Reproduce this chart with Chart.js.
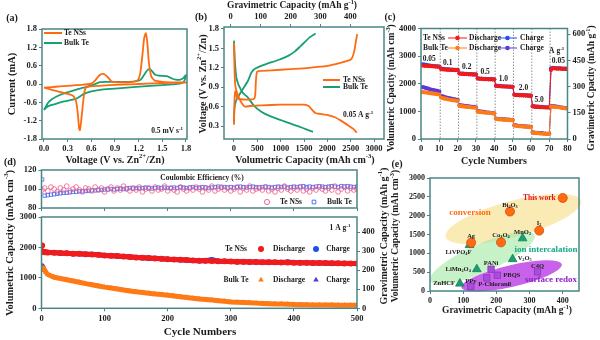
<!DOCTYPE html>
<html>
<head>
<meta charset="utf-8">
<title>Te NSs vs Bulk Te</title>
<script src="https://cdn.jsdelivr.net/npm/chart.js@4.4.1/dist/chart.umd.min.js"></script>
<style>
  body { margin: 0; background: #fff; }
  #fig { position: relative; width: 600px; height: 340px; overflow: hidden; }
  #fig canvas { position: absolute; left: 0; top: 0; }
</style>
</head>
<body>
<div id="fig">
  <canvas id="cvA" width="600" height="340"></canvas>
  <canvas id="gcdB" width="600" height="340"></canvas>
  <canvas id="rateC" width="600" height="340"></canvas>
  <canvas id="ceD" width="600" height="340"></canvas>
  <canvas id="cycD" width="600" height="340"></canvas>
  <canvas id="cmpE" width="600" height="340"></canvas>
</div>
<script>
// ---------- (a) CV at 0.5 mV/s ----------
const cvNssV = [0.00,0.10,0.20,0.30,0.40,0.50,0.60,0.65,0.70,0.75,0.80,0.85,0.90,1.00,1.10,1.18,1.22,1.25,1.27,1.29,1.31,1.33,1.36,1.40,1.50,1.65,1.80,
                1.70,1.50,1.30,1.10,0.90,0.75,0.62,0.56,0.53,0.51,0.49,0.47,0.455,0.445,0.43,0.41,0.38,0.35,0.30,0.20,0.10,0.00];
const cvNssI = [-0.12,-0.10,-0.08,-0.06,-0.04,-0.02,0.01,0.12,0.28,0.33,0.25,0.10,0.06,0.05,0.06,0.10,0.35,1.00,1.50,1.66,1.35,0.70,0.25,0.12,0.07,0.05,0.05,
                0.04,0.03,0.01,-0.01,-0.03,-0.05,-0.07,-0.09,-0.12,-0.30,-0.75,-1.25,-1.51,-1.45,-1.00,-0.60,-0.42,-0.36,-0.32,-0.26,-0.19,-0.12];
const cvBulkV = [0.00,0.05,0.10,0.20,0.30,0.40,0.50,0.62,0.71,0.80,1.00,1.13,1.22,1.27,1.31,1.34,1.37,1.41,1.47,1.56,1.62,1.67,1.73,1.77,1.80,
                 1.79,1.77,1.72,1.50,1.30,1.13,0.90,0.71,0.60,0.50,0.45,0.41,0.35,0.24,0.15,0.07,0.03,0.00];
const cvBulkI = [-0.85,-0.62,-0.50,-0.36,-0.27,-0.19,-0.12,-0.03,0.06,0.07,0.07,0.08,0.13,0.30,0.45,0.49,0.42,0.30,0.27,0.26,0.18,0.14,0.14,0.20,0.30,
                 0.18,0.06,0.01,-0.04,-0.07,-0.10,-0.15,-0.19,-0.24,-0.33,-0.42,-0.48,-0.52,-0.58,-0.65,-0.71,-0.77,-0.85];
const cvVoltTicks = [0, 0.3, 0.6, 0.9, 1.2, 1.5, 1.8];
const cvCurTicks = [-1.8, -1.2, -0.6, 0, 0.6, 1.2, 1.8];

// ---------- (b) charge/discharge at 0.05 A/g ----------
const gcdNssDisQ = [0,10,25,50,100,160,230,350,600,1000,1300,1500,1600,1660,1740,1820,1900,2014,2150,2300,2450,2550,2630];
const gcdNssDisV = [1.58,1.20,0.95,0.85,0.75,0.66,0.60,0.61,0.62,0.63,0.63,0.63,0.61,0.56,0.50,0.49,0.48,0.47,0.44,0.38,0.31,0.26,0.20];
const gcdNssChgQ = [0,5,15,30,60,100,200,350,430,455,470,490,520,800,1200,1600,2000,2300,2450,2520,2575,2610,2640];
const gcdNssChgV = [0.32,0.55,0.76,0.84,0.75,0.72,0.71,0.71,0.72,0.78,1.00,1.13,1.15,1.16,1.18,1.20,1.23,1.28,1.31,1.34,1.45,1.60,1.72];
const gcdBulkDisQ = [0,20,50,90,121,180,300,420,586,750,1014,1200,1400,1550,1693];
const gcdBulkDisV = [1.62,1.30,1.05,0.95,0.90,0.82,0.74,0.62,0.52,0.46,0.39,0.34,0.29,0.25,0.21];
const gcdBulkChgQ = [0,5,15,40,86,180,300,370,420,520,700,950,1150,1300,1420,1520,1620,1750];
const gcdBulkChgV = [0.35,0.50,0.60,0.68,0.75,0.86,1.00,1.12,1.17,1.21,1.26,1.32,1.38,1.45,1.53,1.60,1.67,1.73];
const gcdVolTicks = [0, 500, 1000, 1500, 2000, 2500, 3000];
const gcdGravTicks = [0, 100, 200, 300, 400];
const gcdVoltTicks = [0.3, 0.6, 0.9, 1.2, 1.5, 1.8];

// ---------- (c) rate performance ----------
const rateCycles = Array.from({ length: 80 }, (_, i) => i + 1);
const rateNssDis = [2660,2650,2650,2640,2640,2630,2630,2620,2620,2610,
                    2530,2520,2520,2510,2510,2500,2500,2500,2490,2490,
                    2370,2360,2360,2350,2350,2340,2340,2340,2330,2330,
                    2190,2180,2180,2170,2170,2170,2160,2160,2160,2150,
                    1920,1910,1910,1900,1900,1900,1900,1890,1890,1890,
                    1600,1590,1590,1580,1580,1580,1580,1570,1570,1570,
                    1180,1170,1160,1160,1150,1150,1150,1140,1140,1140,
                    2500,2560,2560,2550,2550,2550,2540,2540,2540,2530];
const rateNssChg = [2700,2690,2680,2670,2660,2650,2640,2630,2630,2620,
                    2550,2540,2530,2520,2520,2510,2510,2500,2500,2500,
                    2380,2370,2370,2360,2360,2350,2350,2340,2340,2340,
                    2200,2190,2190,2180,2180,2170,2170,2170,2160,2160,
                    1930,1920,1920,1910,1910,1900,1900,1900,1900,1890,
                    1610,1600,1600,1590,1590,1580,1580,1580,1570,1570,
                    1190,1180,1170,1170,1160,1160,1150,1150,1150,1140,
                    2560,2580,2570,2560,2560,2560,2550,2550,2550,2540];
const rateBulkDis = [1700,1690,1680,1670,1660,1650,1640,1630,1620,1610,
                     1500,1480,1460,1450,1430,1420,1410,1400,1390,1380,
                     1200,1190,1180,1170,1160,1160,1150,1140,1140,1130,
                     990,980,970,960,960,950,950,940,930,920,
                     730,720,710,710,700,700,690,690,680,680,
                     490,480,470,460,460,450,450,440,440,430,
                     230,220,210,210,200,200,190,190,190,180,
                     1180,1170,1160,1150,1150,1140,1130,1120,1110,1100];
const rateBulkChg = [1880,1860,1840,1820,1800,1780,1770,1750,1740,1720,
                     1560,1540,1520,1500,1480,1470,1450,1440,1430,1420,
                     1230,1220,1210,1200,1190,1180,1170,1160,1160,1150,
                     1010,1000,990,980,970,960,960,950,940,930,
                     740,730,720,720,710,710,700,700,690,690,
                     500,490,480,470,470,460,460,450,450,440,
                     240,230,220,220,210,210,200,200,190,190,
                     1200,1190,1180,1170,1160,1150,1140,1130,1120,1110];
const rateSteps = ['0.05', '0.1', '0.2', '0.5', '1.0', '2.0', '5.0', '0.05'];
const rateStepAt = [4.5, 14.6, 25, 35, 45, 56, 64.5, 75];
const rateDividers = [10.5, 20.5, 30.5, 40.5, 50.5, 60.5, 70.5];
const rateCycTicks = [0, 10, 20, 30, 40, 50, 60, 70, 80];
const rateVolTicks = [0, 1000, 2000, 3000, 4000];
const rateGravTicks = [0, 150, 300, 450, 600];

// ---------- (d) long cycling at 1 A/g ----------
const ceCycles = [1].concat(Array.from({ length: 100 }, (_, i) => 5 * (i + 1)));
const ceNss = [99,101,98,102,100,97,101,99,103,98,
               100,102,99,97,101,100,98,102,99,101,
               97,100,102,98,101,99,103,100,98,101,
               99,102,97,100,101,98,102,99,100,103,
               98,101,99,97,102,100,98,101,99,102,
               100,97,101,99,103,98,100,102,99,101,
               98,100,102,97,101,99,103,98,100,101,
               99,102,98,100,97,101,99,103,100,98,
               101,99,102,98,100,97,101,99,102,100,
               98,101,99,103,97,100,102,98,101,99,
               100];
const ceBulk = [110,93,93.5,94,94.5,95,95.5,96,96,96.5,97,
                97,97.5,97.5,98,98,98.5,98.5,99,99,99.5,
                99.5,100,99.5,100,100.5,100,100.5,101,100.5,101,
                100.5,101,101.5,101,100.5,101,101.5,101,101.5,101,
                101,101.5,101,102,101.5,101,101.5,102,101,101.5,
                102,101.5,101,101.5,102,102.5,101.5,102,101.5,102,
                101.5,102,102.5,102,101.5,102,102.5,102,101.5,102,
                102.5,102,101.5,102,102.5,102,102.5,101.5,102,102.5,
                102,102.5,103,102,102.5,102,102.5,103,102.5,102,
                102.5,103,102.5,102,103,102.5,103,102.5,102,102.5];
const capCycles = [1, 2, 3, 5, 7].concat(Array.from({ length: 50 }, (_, i) => 10 * (i + 1)));
const capNssDis = [2065,1860,1850,1845,1840,1835,1828,1815,1808,1796,
                   1790,1778,1770,1760,1735,1728,1715,1700,1688,1670,
                   1662,1650,1640,1628,1612,1602,1592,1584,1572,1565,
                   1560,1556,1548,1542,1535,1530,1526,1522,1518,1515,
                   1512,1510,1506,1503,1500,1497,1494,1491,1488,1485,
                   1482,1478,1475,1471,1468];
const capNssChg = [1870,1855,1848,1842,1838,1832,1830,1812,1810,1794,
                   1792,1776,1772,1758,1737,1726,1717,1698,1690,1668,
                   1664,1648,1642,1626,1614,1600,1594,1582,1574,1563,
                   1562,1600,1550,1540,1537,1528,1528,1520,1520,1513,
                   1514,1508,1508,1525,1502,1495,1496,1489,1490,1483,
                   1484,1476,1477,1469,1470];
const capBulkDis = [1250,1330,1320,1250,1180,1110,1020,980,940,895,
                    855,810,775,735,695,665,635,600,570,541,
                    520,495,470,450,430,405,380,355,330,309,
                    290,270,250,230,210,200,190,180,170,160,
                    152,145,138,130,121,118,115,112,110,108,
                    106,104,102,100,99];
const capBulkChg = [1380,1420,1390,1300,1215,1130,1035,990,952,908,
                    867,822,787,747,707,677,647,612,582,553,
                    532,507,482,462,442,417,392,367,342,321,
                    302,282,262,242,222,212,202,192,182,172,
                    164,157,150,142,133,130,127,124,122,120,
                    118,116,114,112,111];
const ceTicks = [80, 100, 120];
const capCycTicks = [0, 100, 200, 300, 400, 500];
const capVolTicks = [0, 1000, 2000, 3000];
const capGravTicks = [0, 100, 200, 300, 400];

// ---------- (e) comparison with other Zn cathodes ----------
const convNames = ['This work', 'Bi_{2}O_{3}', 'I_{2}', 'Co_{3}O_{4}', 'Ag'];
const convGrav = [400, 241, 329, 214, 124];
const convVol = [2470, 2110, 1603, 1291, 1282];
const ionNames = ['MnO_{2}', 'LiVPO_{4}F', 'V_{2}O_{5}', 'LiMn_{2}O_{4}', 'ZnHCF'];
const ionGrav = [279, 119, 249, 141, 90];
const ionVol = [1398, 1220, 846, 579, 196];
const redoxNames = ['PANi', 'PBQS', 'P-Chloranil', 'PPy', 'C4Q'];
const redoxGrav = [184, 203, 171, 123, 324];
const redoxVol = [579, 418, 347, 125, 508];
const cmpGravTicks = [0, 100, 200, 300, 400];
const cmpVolTicks = [0, 500, 1000, 1500, 2000, 2500, 3000];

// label offsets (px) and alignment for the point names
const convLabelPos = [[-7, 0, 'right'], [0, -6, 'center'], [0, -7, 'center'], [0, -7, 'center'], [0, -6, 'center']];
const ionLabelPos = [[0, -6, 'center'], [-11, 7, 'center'], [5, -1, 'left'], [-6, 0, 'right'], [-5, 0, 'right']];
const redoxLabelPos = [[0, -6, 'center'], [6, 0, 'left'], [8, 6, 'center'], [0, -5, 'center'], [0, -6, 'center']];

// shaded families: centre (grav, vol), semi-axes in data units, tilt in degrees
const families = [
  { c: [251, 1914], a: 211, b: 480, tilt: -15, fill: 'rgba(247,222,135,0.62)' },
  { c: [158, 880], a: 172, b: 380, tilt: -24, fill: 'rgba(165,232,165,0.62)' },
  { c: [246, 400], a: 155, b: 285, tilt: -13, fill: 'rgba(192,70,232,0.85)' }
];

// ---------- drawing helpers ----------
const SERIF = '"Liberation Serif", "Times New Roman", serif';
const INK = '#1b1b1b';
const AXIS = '#4a8585';
const C_ORANGE = '#ff6a10';
const C_GREEN = '#18a074';
const C_RED = '#f21a1a';
const C_BLUE = '#1f4ef0';
const C_BULK = '#ff7a14';
const C_PURPLE = '#5a3ad6';
const C_PINK = '#ee5a8a';
const TICK_FONT = { family: SERIF, size: 8.5, weight: 'bold' };

function rich(ctx, str, x, y, size, align, color) {
  const parts = [];
  const re = /([\^_])\{([^}]*)\}/g;
  let last = 0, m;
  while ((m = re.exec(str))) {
    if (m.index > last) parts.push({ t: str.slice(last, m.index), k: '' });
    parts.push({ t: m[2], k: m[1] });
    last = re.lastIndex;
  }
  if (last < str.length) parts.push({ t: str.slice(last), k: '' });
  const font = k => `bold ${k ? size * 0.66 : size}px ${SERIF}`;
  let w = 0;
  parts.forEach(p => { ctx.font = font(p.k); p.w = ctx.measureText(p.t).width; w += p.w; });
  let cx = align === 'center' ? x - w / 2 : align === 'right' ? x - w : x;
  ctx.save();
  ctx.fillStyle = color || INK;
  ctx.textBaseline = 'middle';
  ctx.textAlign = 'left';
  parts.forEach(p => {
    ctx.font = font(p.k);
    const dy = p.k === '^' ? -size * 0.34 : p.k === '_' ? size * 0.24 : 0;
    ctx.fillText(p.t, cx, y + dy);
    cx += p.w;
  });
  ctx.restore();
}

function vrich(ctx, str, x, y, size, color) {
  ctx.save();
  ctx.translate(x, y);
  ctx.rotate(-Math.PI / 2);
  rich(ctx, str, 0, 0, size, 'center', color);
  ctx.restore();
}

function seg(ctx, x1, x2, y, color, w) {
  ctx.save();
  ctx.strokeStyle = color;
  ctx.lineWidth = w;
  ctx.beginPath(); ctx.moveTo(x1, y); ctx.lineTo(x2, y); ctx.stroke();
  ctx.restore();
}

function marker(ctx, style, x, y, r, fill, stroke, bw) {
  ctx.save();
  ctx.fillStyle = fill;
  ctx.strokeStyle = stroke;
  ctx.lineWidth = bw;
  Chart.helpers.drawPoint(ctx, { pointStyle: style, rotation: 0, radius: r, borderWidth: bw }, x, y);
  ctx.restore();
}

function xy(xs, ys) { return xs.map((x, i) => ({ x, y: ys[i] })); }

function scale(pos, min, max, tickVals, size, fmt, more) {
  const horiz = pos === 'top' || pos === 'bottom';
  const s = {
    type: 'linear', position: pos, min, max,
    afterBuildTicks: a => { a.ticks = tickVals.map(v => ({ value: v })); },
    afterFit: a => { if (horiz) a.height = size; else a.width = size; },
    border: { display: false },
    grid: { drawOnChartArea: false, drawTicks: true, tickLength: 3, color: AXIS, lineWidth: 1 },
    ticks: { padding: 2, maxRotation: 0, autoSkip: false, color: INK, font: TICK_FONT, callback: fmt }
  };
  if (more) Object.assign(s.ticks, more);
  return s;
}

// padding so the plot frame lands on (l, t, r, b) of the 600x340 sheet
function pad(l, t, r, b, ax) {
  return { left: l - (ax.left || 0), top: t - (ax.top || 0),
           right: 600 - r - (ax.right || 0), bottom: 340 - b - (ax.bottom || 0) };
}

function options(padding, scales) {
  return {
    responsive: false, animation: false, events: [],
    layout: { autoPadding: false, padding },
    plugins: { legend: { display: false }, tooltip: { enabled: false } },
    scales
  };
}

const frame = {
  id: 'frame',
  afterDatasetsDraw(chart) {
    const { ctx, chartArea: a } = chart;
    ctx.save();
    ctx.strokeStyle = AXIS;
    ctx.lineWidth = 1.5;
    ctx.strokeRect(a.left, a.top, a.right - a.left, a.bottom - a.top);
    ctx.restore();
  }
};

const f1 = v => v.toFixed(1);
const f0 = v => String(v);

// Chart.js paints dataset 0 last, so the series listed first ends up on top.

// ---------- (a) ----------
new Chart(document.getElementById('cvA'), {
  type: 'scatter',
  data: { datasets: [
    { data: xy(cvNssV, cvNssI), showLine: true, borderColor: C_ORANGE, borderWidth: 1.8, pointRadius: 0, tension: 0.2 },
    { data: xy(cvBulkV, cvBulkI), showLine: true, borderColor: C_GREEN, borderWidth: 1.8, pointRadius: 0, tension: 0.2 }
  ] },
  options: options(pad(42, 29, 187, 139, { left: 42, bottom: 201 }), {
    x: scale('bottom', -0.025, 1.813, cvVoltTicks, 201, f1),
    y: scale('left', -1.8, 1.8, cvCurTicks, 42, f1)
  }),
  plugins: [frame, { id: 'txtA', afterDraw(c) {
    const ctx = c.ctx;
    rich(ctx, '(a)', 12, 18, 10, 'center');
    vrich(ctx, 'Current (mA)', 12, 84, 10.5);
    rich(ctx, 'Voltage (V vs. Zn^{2+}/Zn)', 115, 160, 10, 'center');
    seg(ctx, 44, 62, 33, C_ORANGE, 2);
    rich(ctx, 'Te NSs', 64, 33, 7.5, 'left');
    seg(ctx, 44, 62, 43, C_GREEN, 2);
    rich(ctx, 'Bulk Te', 64, 43, 7.5, 'left');
    rich(ctx, '0.5 mV s^{-1}', 183, 131, 7.5, 'right');
  } }]
});

// ---------- (b) ----------
new Chart(document.getElementById('gcdB'), {
  type: 'scatter',
  data: { datasets: [
    { data: xy(gcdNssDisQ, gcdNssDisV), showLine: true, borderColor: C_ORANGE, borderWidth: 1.8, pointRadius: 0, tension: 0.2 },
    { data: xy(gcdNssChgQ, gcdNssChgV), showLine: true, borderColor: C_ORANGE, borderWidth: 1.8, pointRadius: 0, tension: 0.2 },
    { data: xy(gcdBulkDisQ, gcdBulkDisV), showLine: true, borderColor: C_GREEN, borderWidth: 1.8, pointRadius: 0, tension: 0.2 },
    { data: xy(gcdBulkChgQ, gcdBulkChgV), showLine: true, borderColor: C_GREEN, borderWidth: 1.8, pointRadius: 0, tension: 0.2 }
  ] },
  options: options(pad(224, 27, 384, 139, { left: 224, top: 27, bottom: 201 }), {
    x: scale('bottom', -214, 3214, gcdVolTicks, 201, f0),
    x2: scale('top', -22, 512, gcdGravTicks, 27, f0),
    y: scale('left', 0.1, 1.83, gcdVoltTicks, 224, f1)
  }),
  plugins: [frame, { id: 'txtB', afterDraw(c) {
    const ctx = c.ctx;
    rich(ctx, '(b)', 201, 17, 10, 'center');
    vrich(ctx, 'Voltage (V vs. Zn^{2+}/Zn)', 203, 84, 10);
    rich(ctx, 'Gravimetric Capacity (mAh g^{-1})', 292, 6, 9.5, 'center');
    rich(ctx, 'Volumetric Capacity (mAh cm^{-3})', 305, 160, 10, 'center');
    seg(ctx, 323, 340, 80, C_ORANGE, 2);
    rich(ctx, 'Te NSs', 343, 80, 7.5, 'left');
    seg(ctx, 323, 340, 87, C_GREEN, 2);
    rich(ctx, 'Bulk Te', 343, 87, 7.5, 'left');
    rich(ctx, '0.05 A g^{-1}', 343, 115, 7.5, 'left');
  } }]
});

// ---------- (c) ----------
function rateSet(ys, color) {
  return { data: xy(rateCycles, ys), showLine: true, borderColor: color, backgroundColor: color,
           borderWidth: 1, pointRadius: 2.1, pointBorderWidth: 0, pointStyle: 'circle' };
}
new Chart(document.getElementById('rateC'), {
  type: 'scatter',
  data: { datasets: [
    rateSet(rateBulkDis, C_BULK),
    rateSet(rateBulkChg, C_PURPLE),
    rateSet(rateNssDis, C_RED),
    rateSet(rateNssChg, C_BLUE)
  ] },
  options: options(pad(421, 28.5, 567.5, 139, { left: 421, right: 32.5, bottom: 201 }), {
    x: scale('bottom', 0, 80, rateCycTicks, 201, f0),
    y: scale('left', 0, 4000, rateVolTicks, 421, f0),
    y2: scale('right', 0, 632, rateGravTicks, 32.5, f0)
  }),
  plugins: [frame, {
    id: 'dividersC',
    beforeDatasetsDraw(c) {
      const ctx = c.ctx, a = c.chartArea, sx = c.scales.x;
      ctx.save();
      ctx.strokeStyle = '#777';
      ctx.lineWidth = 0.8;
      ctx.setLineDash([1.5, 1.5]);
      rateDividers.forEach(v => {
        const px = sx.getPixelForValue(v);
        ctx.beginPath(); ctx.moveTo(px, a.top); ctx.lineTo(px, a.bottom); ctx.stroke();
      });
      ctx.restore();
    },
    afterDraw(c) {
      const ctx = c.ctx, sx = c.scales.x, sy = c.scales.y;
      rich(ctx, '(c)', 390, 17, 10, 'center');
      vrich(ctx, 'Volumetric Cpacity (mAh cm^{-3})', 392, 88, 9.5);
      vrich(ctx, 'Gravimetric Cpacity (mAh g^{-1})', 592, 88, 9.5);
      rich(ctx, 'Cycle Numbers', 494, 161, 10, 'center');
      // legend rows
      [[38, 'Te NSs', C_RED, C_BLUE], [48, 'Bulk Te', C_BULK, C_PURPLE]].forEach(([y, name, cd, cc]) => {
        rich(ctx, name, 423, y, 7.5, 'left');
        seg(ctx, 448, 467, y, cd, 1);
        marker(ctx, 'circle', 457.5, y, 2.3, cd, cd, 0);
        rich(ctx, 'Discharge', 469, y, 7.5, 'left');
        seg(ctx, 498, 517, y, cc, 1);
        marker(ctx, 'circle', 507.5, y, 2.3, cc, cc, 0);
        rich(ctx, 'Charge', 520, y, 7.5, 'left');
      });
      // current density of each step, just above its first discharge point
      rateSteps.forEach((s, i) => {
        const cyc = Math.min(80, Math.round(rateStepAt[i]));
        const py = sy.getPixelForValue(rateNssDis[cyc - 1]) - 7;
        rich(ctx, s, sx.getPixelForValue(rateStepAt[i]), py, 7.5, 'center');
      });
      rich(ctx, 'A g^{-1}', 556.7, 51, 7.5, 'center');
    }
  }]
});

// ---------- (d) upper: Coulombic efficiency ----------
new Chart(document.getElementById('ceD'), {
  type: 'scatter',
  data: { datasets: [
    { data: xy(ceCycles, ceNss), pointStyle: 'circle', pointRadius: 2.4, borderColor: C_PINK, backgroundColor: 'rgba(0,0,0,0)', pointBorderWidth: 0.8 },
    { data: xy(ceCycles, ceBulk), pointStyle: 'rect', pointRadius: 2.4, borderColor: '#3a66f2', backgroundColor: 'rgba(0,0,0,0)', pointBorderWidth: 0.8 }
  ] },
  options: options(pad(41.5, 170, 357, 208, { left: 41.5, bottom: 132 }), {
    x: scale('bottom', 0, 500, capCycTicks, 132, f0, { display: false }),
    y: scale('left', 80, 120, ceTicks, 41.5, f0)
  }),
  plugins: [frame, { id: 'txtD1', afterDraw(c) {
    const ctx = c.ctx;
    rich(ctx, '(d)', 10, 162, 10, 'center');
    rich(ctx, 'Coulombic Efficiency (%)', 202, 178, 7.5, 'center');
    marker(ctx, 'circle', 267, 202, 2.6, 'rgba(0,0,0,0)', C_PINK, 0.9);
    rich(ctx, 'Te NSs', 280, 202, 7.5, 'left');
    marker(ctx, 'rect', 314, 202, 2.6, 'rgba(0,0,0,0)', '#3a66f2', 0.9);
    rich(ctx, 'Bulk Te', 327, 202, 7.5, 'left');
  } }]
});

// ---------- (d) lower: capacity over 500 cycles ----------
function capSet(ys, color, style, width, r) {
  return { data: xy(capCycles, ys), showLine: true, borderColor: color, backgroundColor: color,
           borderWidth: width, pointRadius: r, pointStyle: style, pointBorderWidth: 0,
           segment: { borderWidth: s => (s.p0DataIndex === 0 ? 0 : width) } };
}
new Chart(document.getElementById('cycD'), {
  type: 'scatter',
  data: { datasets: [
    capSet(capBulkDis, C_BULK, 'triangle', 5, 3),
    capSet(capBulkChg, C_PURPLE, 'triangle', 3, 2.4),
    capSet(capNssDis, C_RED, 'circle', 5, 3),
    capSet(capNssChg, C_BLUE, 'circle', 5, 2.6)
  ] },
  options: options(pad(41.5, 217, 357, 308.3, { left: 41.5, right: 243, bottom: 31.7 }), {
    x: scale('bottom', 0, 500, capCycTicks, 31.7, f0),
    y: scale('left', 0, 3000, capVolTicks, 41.5, f0),
    y2: scale('right', 0, 480, capGravTicks, 243, f0)
  }),
  plugins: [frame, { id: 'txtD2', afterDraw(c) {
    const ctx = c.ctx;
    vrich(ctx, 'Volumetric Capacity (mAh cm^{-3})', 10, 243, 10.5);
    vrich(ctx, 'Gravimetric Capacity (mAh g^{-1})', 384, 236, 10);
    rich(ctx, 'Cycle Numbers', 200, 332, 11, 'center');
    rich(ctx, '1 A g^{-1}', 340, 228, 7.5, 'center');
    rich(ctx, 'Te NSs', 236, 249, 7.5, 'center');
    marker(ctx, 'circle', 261, 249, 3, C_RED, C_RED, 0);
    rich(ctx, 'Discharge', 289, 249, 7.5, 'center');
    marker(ctx, 'circle', 316, 249, 3, C_BLUE, C_BLUE, 0);
    rich(ctx, 'Charge', 338, 249, 7.5, 'center');
    rich(ctx, 'Bulk Te', 236, 280, 7.5, 'center');
    marker(ctx, 'triangle', 261, 280, 3.2, C_BULK, C_BULK, 0);
    rich(ctx, 'Discharge', 289, 280, 7.5, 'center');
    marker(ctx, 'triangle', 316, 280, 3.2, C_PURPLE, C_PURPLE, 0);
    rich(ctx, 'Charge', 338, 280, 7.5, 'center');
  } }]
});

// ---------- (e) ----------
function cmpSet(xs, ys, style, fill, edge, r) {
  return { data: xy(xs, ys), pointStyle: style, pointRadius: r, backgroundColor: fill, borderColor: edge, pointBorderWidth: 0.8 };
}
new Chart(document.getElementById('cmpE'), {
  type: 'scatter',
  data: { datasets: [
    cmpSet(convGrav, convVol, 'circle', '#ff6a13', '#d04a00', 4.5),
    cmpSet(ionGrav, ionVol, 'triangle', '#1d9e70', '#13805a', 5),
    cmpSet(redoxGrav, redoxVol, 'rect', '#a84fd8', '#8a33c0', 4.5)
  ] },
  options: options(pad(430, 178, 579, 291, { left: 430, bottom: 49 }), {
    x: scale('bottom', 0, 449, cmpGravTicks, 49, f0, { font: { family: SERIF, size: 8, weight: 'bold' } }),
    y: scale('left', 0, 3000, cmpVolTicks, 430, f0, { font: { family: SERIF, size: 8, weight: 'bold' } })
  }),
  plugins: [frame, {
    id: 'familiesE',
    beforeDatasetsDraw(c) {
      const ctx = c.ctx, sx = c.scales.x, sy = c.scales.y;
      families.forEach(f => {
        const cx = sx.getPixelForValue(f.c[0]), cy = sy.getPixelForValue(f.c[1]);
        const rx = Math.abs(sx.getPixelForValue(f.c[0] + f.a) - cx);
        const ry = Math.abs(sy.getPixelForValue(f.c[1] + f.b) - cy);
        ctx.save();
        ctx.fillStyle = f.fill;
        ctx.beginPath();
        ctx.ellipse(cx, cy, rx, ry, f.tilt * Math.PI / 180, 0, Math.PI * 2);
        ctx.fill();
        ctx.restore();
      });
    },
    afterDraw(c) {
      const ctx = c.ctx, sx = c.scales.x, sy = c.scales.y;
      rich(ctx, '(e)', 397, 164, 10, 'center');
      vrich(ctx, 'Volumetric Capacity (mAh cm^{-3})', 396, 236, 9.5);
      rich(ctx, 'Gravimetric Capacity (mAh g^{-1})', 507, 311, 9.5, 'center');
      rich(ctx, 'conversion', 470, 213, 9, 'center', '#ff6a10');
      rich(ctx, 'ion intercalation', 546, 250, 9, 'center', '#16a88a');
      rich(ctx, 'surface redox', 551, 280, 9, 'center', '#8e24c8');
      const put = (names, gx, vy, pos) => names.forEach((n, i) => {
        const px = sx.getPixelForValue(gx[i]) + pos[i][0];
        const py = sy.getPixelForValue(vy[i]) + pos[i][1];
        const red = n === 'This work';
        rich(ctx, n, px, py, red ? 7.5 : 6.5, pos[i][2], red ? '#e8101c' : INK);
      });
      put(convNames, convGrav, convVol, convLabelPos);
      put(ionNames, ionGrav, ionVol, ionLabelPos);
      put(redoxNames, redoxGrav, redoxVol, redoxLabelPos);
    }
  }]
});
</script>
</body>
</html>
